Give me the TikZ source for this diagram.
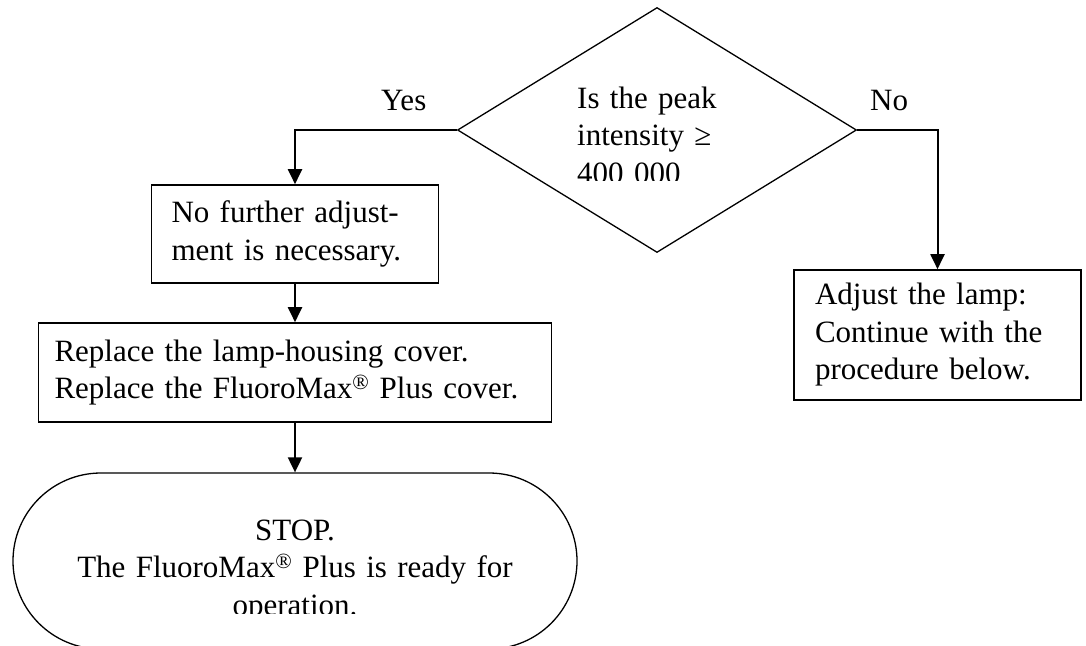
\documentclass[tikz,border=0pt]{standalone}
\usepackage{fontspec}
\setmainfont{Liberation Serif}
\usetikzlibrary{shapes.geometric,shapes.misc,arrows.meta}
\begin{document}
\begin{tikzpicture}[x=1pt,y=-1pt,
  every node/.style={font=\fontsize{31}{37.5}\selectfont},
  procbox/.style={draw, line width=1.6pt, inner xsep=20pt, inner ysep=0pt, align=left},
  decision/.style={draw, diamond, line width=1.3pt, inner sep=0pt},
  terminal/.style={draw, rounded rectangle, line width=1.3pt, inner sep=0pt},
  plain/.style={inner sep=0pt},
  conn/.style={line width=2pt, -{Triangle[width=14pt,length=15pt]}},
]
\useasboundingbox (0,0) rectangle (1086,645);

% decision
\node[decision, minimum width=399pt, minimum height=245pt] (dec) at (657,130) {};
\begin{scope}
  \clip (560,60) rectangle (780,180);
  \node[plain, anchor=base west, text width=190pt, align=left] (dtext) at (577,108)
    {Is the peak\\intensity ≥\\400 000};
\end{scope}

% labels
\node[plain, anchor=base west] (yes) at (381,110) {Yes};
\node[plain, anchor=base west] (no) at (870,110) {No};

% boxes
\node[procbox, text width=247pt, minimum height=98pt] (b1) at (295,234)
  {No further adjust-\\ment is necessary.};
\node[procbox, text width=481pt, inner xsep=16pt, minimum height=99pt] (b2) at (295,372.5)
  {Replace the lamp-housing cover.\\Replace the FluoroMax\textsuperscript{®} Plus cover.};
\node[procbox, text width=245pt, minimum height=130pt, inner xsep=21pt] (b3) at (937.5,335)
  {Adjust the lamp:\\Continue with the\\procedure below.};

% terminal
\node[terminal, minimum width=564pt, minimum height=176pt] (stop) at (295,561) {};
\begin{scope}
  \clip (30,490) rectangle (560,613);
  \node[plain, anchor=base, text width=540pt, align=center] (stoptext) at (295,540)
    {STOP.\\The FluoroMax\textsuperscript{®} Plus is ready for\\operation.};
\end{scope}

% connectors
\draw[conn] (dec.west) -| (b1.north);
\draw[conn] (dec.east) -| (b3.north);
\draw[conn] (b1.south) -- (b2.north);
\draw[conn] (b2.south) -- (stop.north);
\end{tikzpicture}
\end{document}
